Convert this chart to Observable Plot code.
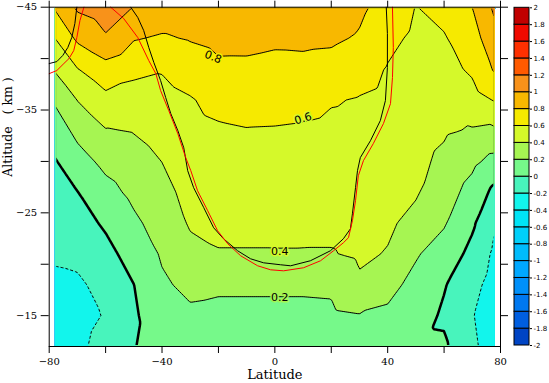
<!DOCTYPE html>
<html><head><meta charset="utf-8">
<script src="https://cdn.jsdelivr.net/npm/d3@7"></script>
<script src="https://cdn.jsdelivr.net/npm/@observablehq/plot@0.6"></script>
<style>
body{margin:0;background:#fff;}
#wrap{position:relative;width:549px;height:383px;overflow:hidden;background:#fff;}
#wrap svg{position:absolute;top:0;}
</style></head><body><div id="wrap"></div>
<script>
// ---- grid of the field: latitude columns, altitude rows ----
const lats = [-78,-70,-60,-50,-40,-30,-20,-10,0,10,20,30,40,50,60,70,78];
const alts = [-45,-42,-39,-36,-33,-30,-27,-24,-21,-18,-15,-12];
const a45 = [0.82,1.03,1.1,0.995,0.92,0.92,0.93,0.93,0.93,0.93,0.91,0.84,0.72,0.595,0.66,0.8,1.04];
const a42 = [0.60,0.84,0.98,0.815,0.779,0.815,0.852,0.849,0.833,0.84,0.832,0.781,0.648,0.565,0.585,0.717,0.936];
const a39 = [0.42,0.595,0.725,0.646,0.614,0.689,0.764,0.765,0.746,0.748,0.73,0.673,0.589,0.536,0.531,0.634,0.824];
const a36 = [0.225,0.406,0.548,0.52,0.538,0.587,0.656,0.675,0.664,0.654,0.613,0.589,0.557,0.506,0.477,0.521,0.615];
const a33 = [0.09,0.254,0.389,0.409,0.47,0.545,0.576,0.592,0.589,0.58,0.563,0.555,0.524,0.477,0.423,0.385,0.369];
const a30 = [-0.014,0.119,0.252,0.326,0.402,0.503,0.527,0.54,0.54,0.534,0.521,0.522,0.492,0.447,0.359,0.243,0.137];
const a27 = [-0.067,-0.004,0.134,0.246,0.341,0.461,0.478,0.488,0.492,0.487,0.479,0.488,0.459,0.418,0.288,0.13,-0.052];
const a24 = [-0.121,-0.08,0.028,0.164,0.28,0.419,0.44,0.44,0.443,0.44,0.437,0.454,0.427,0.347,0.217,0.031,-0.188];
const a21 = [-0.174,-0.156,-0.059,0.079,0.219,0.349,0.39,0.39,0.39,0.39,0.39,0.43,0.39,0.216,0.12,-0.057,-0.238];
const a18 = [-0.24,-0.23,-0.14,-0.002,0.175,0.24,0.225,0.225,0.225,0.225,0.23,0.37,0.25,0.151,0.014,-0.139,-0.279];
const a15 = [-0.27,-0.25,-0.19,-0.03,0.137,0.17,0.16,0.16,0.16,0.16,0.165,0.19,0.17,0.096,-0.03,-0.19,-0.3];
const a12 = [-0.27,-0.23,-0.15,-0.01,0.1,0.14,0.13,0.13,0.13,0.13,0.13,0.12,0.1,0.04,0.03,-0.17,-0.28];

// ---- overlay lines (second field) ----
const blackLeftLat = [-80,-77.3,-75.2,-73.4,-72.0,-70.9,-70.2];
const blackLeftAlt = [-39.52,-39.71,-40.3,-41.08,-42.05,-43.41,-45];
const redLeftLat = [-80,-77.3,-74.8,-73.0,-71.3,-70.2,-69.1,-67.7];
const redLeftAlt = [-38.54,-38.84,-39.52,-40.0,-40.78,-42.05,-43.7,-45];
const blackULat = [-51.1,-48.6,-46.5,-44.7,-42.9,-40.5,-38.7,-36.9,-34.4,-32.3,-30.9,-28.8,-25.2,-21.7,-18.2,-13.2,-8.6,-4.0,2.0,5.6,12.6,19.7,24.3,26.8,27.5,28.6,29.3,30.3,33.9,37.4,39.2,39.9,39.9,39.5];
const blackUAlt = [-45,-44.0,-42.73,-41.08,-39.62,-37.86,-36.21,-34.65,-33.0,-31.34,-29.1,-27.45,-25.5,-23.55,-22.48,-21.31,-20.53,-20.14,-19.95,-19.85,-20.34,-21.31,-22.48,-23.45,-24.91,-27.45,-29.1,-30.37,-32.02,-33.97,-35.92,-39.13,-42.44,-45];
const redULat = [-58.2,-53.6,-48.6,-44.7,-42.2,-40.5,-37.6,-34.4,-31.6,-29.8,-27.4,-23.8,-20.3,-16.7,-12.1,-6.1,-1.5,3.1,10.2,16.2,20.8,24.3,26.1,27.5,28.6,29.6,31.4,34.9,38.5,41.0,41.7,42.0,41.7];
const redUAlt = [-45,-43.9,-42.05,-39.81,-38.54,-36.89,-34.94,-32.7,-30.37,-29.1,-27.15,-25.2,-23.26,-21.99,-20.82,-19.85,-19.46,-19.36,-19.66,-20.34,-21.31,-22.09,-22.58,-24.23,-26.18,-28.61,-30.07,-31.73,-33.68,-35.62,-38.16,-41.08,-45];

// ---- levels, colours, ticks ----
const fillThresholds = [-2,-1.8,-1.6,-1.4,-1.2,-1,-0.8,-0.6,-0.4,-0.2,0,0.2,0.4,0.6,0.8,1,1.2,1.4,1.6,1.8];
const colorBreaks = [-1.8,-1.6,-1.4,-1.2,-1,-0.8,-0.6,-0.4,-0.2,0,0.2,0.4,0.6,0.8,1,1.2,1.4,1.6,1.8];
const colorRange = ["#0044c4","#005ee0","#0078f0","#0090fa","#00a8ff","#00bcfc","#00d0fa","#00e4f6","#12f5ec","#48f4bc","#76f98a","#a6f552","#d5f92a","#f6ea00","#f8b800","#f8921a","#ff5a00","#ff3000","#f00a00","#c00000"];
const posLevels = [0.2,0.4,0.6,0.8,1];
const zeroLevel = [0];
const negLevels = [-0.2];
const barLows = [-2,-1.8,-1.6,-1.4,-1.2,-1,-0.8,-0.6,-0.4,-0.2,0,0.2,0.4,0.6,0.8,1,1.2,1.4,1.6,1.8];
const barHighs = [-1.8,-1.6,-1.4,-1.2,-1,-0.8,-0.6,-0.4,-0.2,0,0.2,0.4,0.6,0.8,1,1.2,1.4,1.6,1.8,2];
const barTicks = [-2,-1.8,-1.6,-1.4,-1.2,-1,-0.8,-0.6,-0.4,-0.2,0,0.2,0.4,0.6,0.8,1,1.2,1.4,1.6,1.8,2];
const xTicks = [-80,-60,-40,-20,0,20,40,60,80];
const xLabels = [-80,-40,0,40,80];
const yTicks = [-45,-40,-35,-30,-25,-20,-15];
const yLabels = [-45,-35,-25,-15];
const cLabels = ["0.8","0.6","0.4","0.2"];
const cLabelLat = [-21.9,10.0,1.7,1.7];
const cLabelAlt = [-40.15,-34.16,-21.27,-16.78];

const rows = [a45,a42,a39,a36,a33,a30,a27,a24,a21,a18,a15,a12];
const grid = alts.flatMap((alt, i) => lats.map((lat, j) => ({lat, alt, v: rows[i][j]})));

const labelRot = [22,-17,0,0];
const labelHalo = ["#f6ea00","#d5f92a","#d5f92a","#a6f552"];
const fmt = d => d < 0 ? "\u2212" + (-d) : String(d);
const colorScale = {type: "threshold", domain: colorBreaks, range: colorRange};
const cc = {x: "lat", y: "alt", interpolate: "barycentric", x1: -78, x2: 78, y1: -45, y2: -12};

const main = Plot.plot({
  width: 549, height: 383,
  marginLeft: 48.7, marginRight: 49, marginTop: 6.7, marginBottom: 37,
  style: {fontFamily: "DejaVu Serif", fontSize: "10px", background: "white", color: "black"},
  x: {domain: [-80, 80]},
  y: {domain: [-12, -45]},
  color: colorScale,
  marks: [
    Plot.contour(grid, {...cc, fill: "v", thresholds: fillThresholds}),
    Plot.contour(grid, {...cc, value: "v", stroke: "black", strokeWidth: 1, thresholds: posLevels}),
    Plot.contour(grid, {...cc, value: "v", stroke: "black", strokeWidth: 2.5, thresholds: zeroLevel}),
    Plot.contour(grid, {...cc, value: "v", stroke: "black", strokeWidth: 1, strokeDasharray: "3,2", thresholds: negLevels}),
    Plot.line(blackLeftLat, {x: d => d, y: (d, i) => blackLeftAlt[i], stroke: "black", strokeWidth: 1}),
    Plot.line(redLeftLat, {x: d => d, y: (d, i) => redLeftAlt[i], stroke: "#ff0000", strokeWidth: 1}),
    Plot.line(blackULat, {x: d => d, y: (d, i) => blackUAlt[i], stroke: "black", strokeWidth: 1}),
    Plot.line(redULat, {x: d => d, y: (d, i) => redUAlt[i], stroke: "#ff0000", strokeWidth: 1}),
    ...cLabels.map((t, i) => Plot.text([i], {
      x: k => cLabelLat[k], y: k => cLabelAlt[k], text: k => cLabels[k],
      rotate: labelRot[i], fontSize: 11, fontFamily: "DejaVu Sans",
      fill: "black", stroke: labelHalo[i], strokeWidth: 3
    })),
    Plot.axisX({anchor: "bottom", ticks: xTicks, tickSize: 7, tickPadding: 4, tickFormat: d => xLabels.includes(d) ? fmt(d) : "", label: null}),
    Plot.axisX({anchor: "top", ticks: xTicks, tickSize: 7, tickFormat: () => "", label: null}),
    Plot.axisY({anchor: "left", ticks: yTicks, tickSize: 8, tickPadding: 4, tickFormat: d => yLabels.includes(d) ? fmt(d) : "", label: null}),
    Plot.axisY({anchor: "right", ticks: yTicks, tickSize: 7, tickFormat: () => "", label: null}),
    Plot.frame({stroke: "black"}),
    Plot.text(["Latitude"], {frameAnchor: "bottom", dy: 32, fontSize: 13, fill: "black"}),
    Plot.text(["Altitude\u00a0\u00a0\u00a0(\u00a0km\u00a0)"], {frameAnchor: "left", dx: -41, rotate: -90, fontSize: 12.5, fill: "black"})
  ]
});

// clip contour line groups slightly inside the filled area so the raster border is not stroked
(function () {
  const sx = main.scale("x"), sy = main.scale("y");
  const x0 = sx.apply(-78) + 1.5, x1 = sx.apply(78) - 1.5;
  const y0 = sy.apply(-45) + 1.5, y1 = sy.apply(-12) - 1.5;
  const ns = "http://www.w3.org/2000/svg";
  const defs = document.createElementNS(ns, "defs");
  const cp = document.createElementNS(ns, "clipPath");
  cp.setAttribute("id", "innerclip");
  const r = document.createElementNS(ns, "rect");
  r.setAttribute("x", x0); r.setAttribute("y", y0);
  r.setAttribute("width", x1 - x0); r.setAttribute("height", y1 - y0);
  cp.appendChild(r); defs.appendChild(cp);
  main.insertBefore(defs, main.firstChild);
  main.querySelectorAll('g[aria-label="contour"]').forEach((g, i) => {
    if (i > 0) g.setAttribute("clip-path", "url(#innerclip)");
  });
})();

const bar = Plot.plot({
  width: 44, height: 383,
  marginLeft: 9, marginRight: 20, marginTop: 7.3, marginBottom: 38,
  style: {fontFamily: "DejaVu Sans", fontSize: "7px", background: "none", color: "black", overflow: "visible"},
  x: {domain: [0, 1], axis: null},
  y: {domain: [-2, 2]},
  color: colorScale,
  marks: [
    Plot.rect(barLows, {x1: () => 0, x2: () => 1, y1: d => d, y2: (d, i) => barHighs[i], fill: d => d, stroke: "black", strokeWidth: 1}),
    Plot.axisY({anchor: "right", ticks: barTicks, tickSize: 2, tickPadding: 2, tickFormat: d => String(d), label: null})
  ]
});

const wrap = document.getElementById("wrap");
main.style.left = "0px";
bar.style.left = "505px";
wrap.appendChild(main);
wrap.appendChild(bar);
</script>
</body></html>
